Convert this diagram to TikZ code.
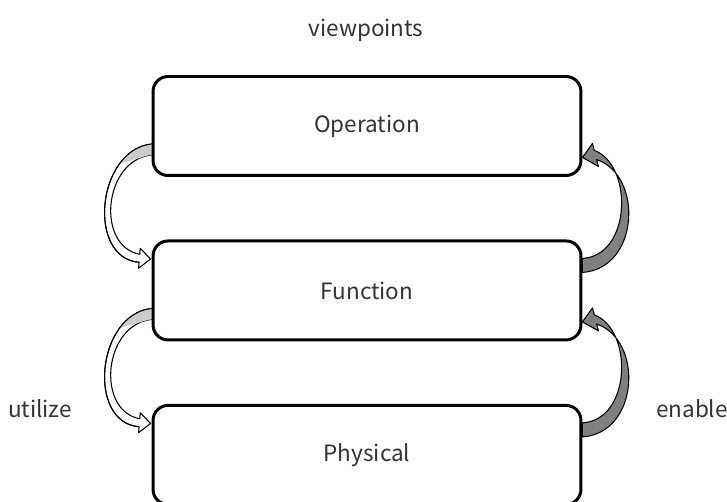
\documentclass[tikz,border=0pt]{standalone}
\usepackage{fontspec}
\setmainfont{Noto Sans CJK JP}
\usetikzlibrary{positioning}

\tikzset{
  view/.style={draw, line width=1.7pt, rounded corners=0.3cm,
    minimum width=8.56cm, minimum height=1.98cm, text=black!80,
    font=\fontsize{12.8}{15}\selectfont},
  lbl/.style={text=black!80, font=\fontsize{12.8}{15}\selectfont},
  band/.style={draw, line width=0.6pt, line join=round}
}

\begin{document}
\begin{tikzpicture}[x=0.02cm, y=-0.02cm]
  \useasboundingbox (0,0) rectangle (727,502);

  \node[view] (op) at (367,126) {Operation};
  \node[view, below=1.25cm of op] (fn) {Function};
  \node[view, below=1.25cm of fn] (ph) {Physical};

  \node[lbl] (vp) at (366,30) {viewpoints};
  \node[lbl] (ut) at (40,409) {utilize};
  \node[lbl] (en) at (692,409) {enable};

  % utilize: upper view down to lower view
  \foreach \a/\b in {op/fn, fn/ph} {
    \begin{scope}[shift={(\a.west)}]
      \path[band, fill=white] (0,18) .. controls (-55,24) and (-65,132) .. (-12.5,136.3)
        -- (-13,142.3) -- (-1,133) -- (-11.3,122.3) -- (-11.8,128.3)
        .. controls (-56,120) and (-48,34) .. (0,29) -- cycle;
      \begin{scope}
        \clip (0,18) .. controls (-55,24) and (-65,132) .. (-12.5,136.3)
          -- (-11.8,128.3) .. controls (-56,120) and (-48,34) .. (0,29) -- cycle;
        \fill[gray!40] (5,5) -- (-80,5) -- (-80,70) .. controls (-45,40) .. (5,28) -- cycle;
      \end{scope}
      \draw[line width=0.6pt] (0,18) .. controls (-55,24) and (-65,132) .. (-12.5,136.3);
    \end{scope}
  }

  % enable: lower view up to upper view
  \foreach \a/\b in {op/fn, fn/ph} {
    \begin{scope}[shift={(\b.east)}]
      \path[band, fill=gray] (0,-18) .. controls (57,-22) and (61,-115) .. (14.2,-130.9)
        -- (16,-124) -- (0,-133) -- (10,-147) -- (11.8,-140.1)
        .. controls (51,-125) and (49,-35) .. (0,-32) -- cycle;
    \end{scope}
  }
\end{tikzpicture}
\end{document}
